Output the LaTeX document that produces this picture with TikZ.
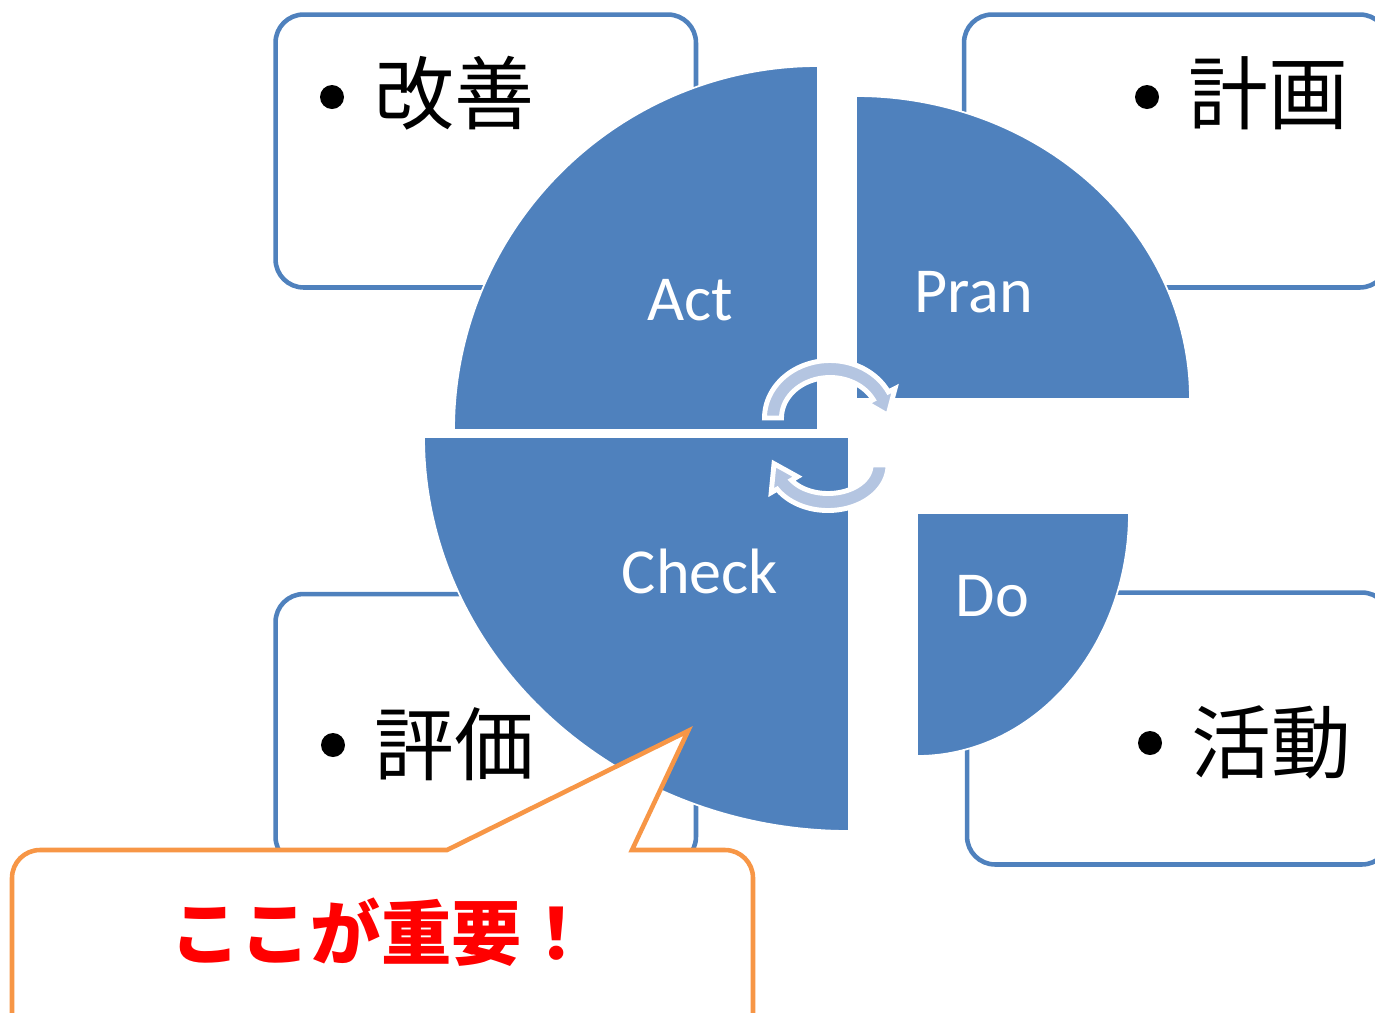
\documentclass[tikz,border=0pt]{standalone}
\usepackage{fontspec}
\setmainfont{Carlito}
\newfontfamily\jpfont{Noto Sans CJK JP}
\definecolor{pblue}{HTML}{4F81BD}
\definecolor{cycblue}{HTML}{B4C5E1}
\definecolor{corange}{HTML}{F79646}
\definecolor{cred}{HTML}{FF0000}
\begin{document}
\begin{tikzpicture}[x=0.02cm,y=-0.02cm,
  box/.style={draw=pblue, line width=2.6pt, rounded corners=16pt, fill=white, inner sep=0pt},
  wedge/.style={fill=pblue, draw=white, line width=1pt},
  wlabel/.style={text=white, font=\fontsize{36.5}{40}\selectfont, inner sep=0pt, anchor=base},
  jlabel/.style={font=\jpfont\fontsize{45.5}{50}\selectfont, inner sep=0pt, anchor=west},
  bulletdot/.style={circle, fill=black, minimum size=0.48cm, inner sep=0pt},
  cyc/.style={fill=cycblue, draw=white, line width=2.8pt, line join=miter},
  callout/.style={fill=white, draw=corange, line width=2.6pt, line join=miter},
]
\useasboundingbox (0,0) rectangle (1375,1012);
\clip (0,0) rectangle (1375,1012);

% boxes
\node[box, minimum width=8.41cm, minimum height=5.46cm] (kaizenbox) at (485.75,151) {};
\node[box, minimum width=8.48cm, minimum height=5.46cm] (keikakubox) at (1176,151) {};
\node[box, minimum width=8.41cm, minimum height=5.42cm] (hyoukabox) at (485.75,729.5) {};
\node[box, minimum width=8.46cm, minimum height=5.44cm] (katsudoubox) at (1178.5,728.5) {};

% wedges
\path[wedge] (818,430) -- (454,430) -- plot[domain=180:90, samples=90, variable=\t] ({818+364*cos(\t)},{430-364*sin(\t)}) -- cycle;
\path[wedge] (856,399) -- plot[domain=90:0, samples=90, variable=\t] ({856+334*cos(\t)},{399-303*sin(\t)}) -- cycle;
\path[wedge] (849,437) -- plot[domain=180:270, samples=90, variable=\t] ({849+425*cos(\t)},{437-394*sin(\t)}) -- cycle;
\path[wedge] (917,513) -- plot[domain=0:-90, samples=90, variable=\t] ({917+212*cos(\t)},{513-243*sin(\t)}) -- cycle;

% cycle arrows
\path[cyc] plot[domain=180:27, samples=60, variable=\t] ({830+65.5*cos(\t)},{418-57.5*sin(\t)})
  -- ({830+73*cos(27)},{418-65*sin(27)})
  -- ({830+58*cos(3)},{418-50*sin(3)})
  -- ({830+41*cos(27)},{418-33*sin(27)})
  -- plot[domain=27:180, samples=60, variable=\t] ({830+48.5*cos(\t)},{418-40.5*sin(\t)}) -- cycle;
\path[cyc] plot[domain=0:-148, samples=60, variable=\t] ({828+60*cos(\t)},{465-45.5*sin(\t)})
  -- ({828+67*cos(-148)},{465-52*sin(-148)})
  -- ({828+54*cos(-182)},{465-38*sin(-182)})
  -- ({828+36*cos(-148)},{465-22*sin(-148)})
  -- plot[domain=-148:0, samples=60, variable=\t] ({828+43*cos(\t)},{465-28.5*sin(\t)}) -- cycle;

% wedge labels
\node[wlabel] (act) at (690.5,320) {Act};
\node[wlabel] (pran) at (974,312) {Pran};
\node[wlabel] (check) at (700,593) {Check};
\node[wlabel] (do) at (992.5,616) {Do};

% box labels
\node[bulletdot] (b1) at (332,97) {};
\node[jlabel] (kaizen) at (374,93.5) {改善};
\node[bulletdot] (b2) at (1147,97) {};
\node[jlabel] (keikaku) at (1188,93) {計画};
\node[bulletdot] (b3) at (333,745) {};
\node[jlabel] (hyouka) at (374,744) {評価};
\node[bulletdot] (b4) at (1150,743) {};
\node[jlabel] (katsudou) at (1191,742) {活動};

% callout
\path[callout] (447,850) -- (688,731) -- (632,850) -- (725,850)
  .. controls (740.5,850) and (753,862.5) .. (753,878) -- (753,1045) -- (12,1045) -- (12,878)
  .. controls (12,862.5) and (24.5,850) .. (40,850) -- cycle;
\node[inner sep=0pt, text=cred, font=\jpfont\bfseries\fontsize{40}{44}\selectfont] (important) at (381,932) {ここが重要！};
\end{tikzpicture}
\end{document}
